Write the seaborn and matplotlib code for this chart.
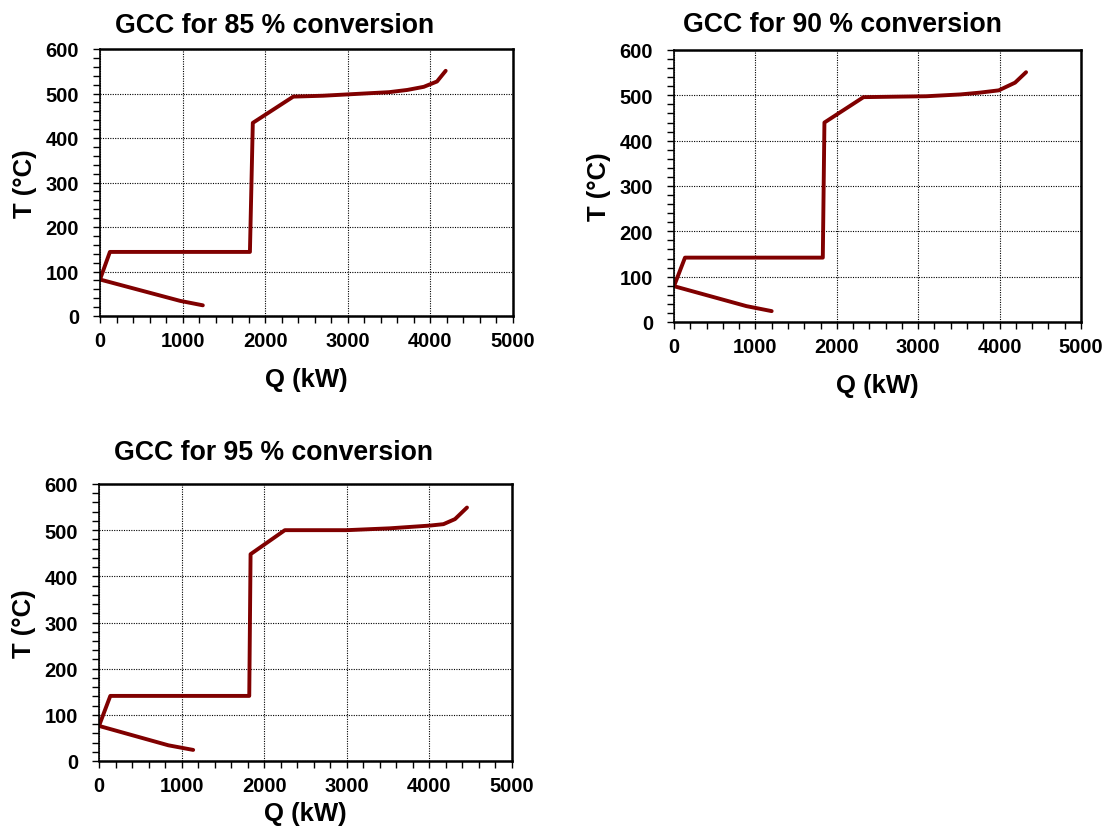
import matplotlib
matplotlib.use("Agg")
import matplotlib.pyplot as plt
from matplotlib.ticker import MultipleLocator
import seaborn as sns
import pandas as pd

# Grand composite curves (path order: cold end -> pinch -> hot end)
q_85 = [1245, 970, 0, 120, 1815, 1850, 2340, 2700, 3000, 3500, 3720, 3920, 4080, 4185]
t_85 = [24, 34, 82, 144, 144, 434, 493, 495, 498, 503, 508, 515, 527, 551]

q_90 = [1200, 890, 0, 135, 1828, 1848, 2328, 2700, 3100, 3520, 3760, 3990, 4190, 4325]
t_90 = [24, 35, 79, 142, 142, 440, 496, 497, 498, 502, 506, 511, 528, 551]

q_95 = [1140, 840, 0, 137, 1819, 1835, 2250, 3000, 3520, 4010, 4170, 4310, 4455]
t_95 = [24, 34, 76, 141, 141, 448, 500, 500, 504, 510, 513, 524, 549]

titles = ["GCC for 85 % conversion", "GCC for 90 % conversion", "GCC for 95 % conversion"]
x_label = "Q (kW)"
y_label = "T (°C)"
x_ticks = [0, 1000, 2000, 3000, 4000, 5000]
y_ticks = [0, 100, 200, 300, 400, 500, 600]

sns.set_style("white")
plt.rcParams["font.family"] = ["Liberation Sans", "DejaVu Sans"]
plt.rcParams["font.weight"] = "bold"
for key in ("text.color", "axes.labelcolor", "xtick.color", "ytick.color", "axes.edgecolor"):
    plt.rcParams[key] = "black"

W, H = 1113, 829
fig = plt.figure(figsize=(W / 100, H / 100), dpi=100)


def axes_box(left, right, top, bottom):
    return [left / W, 1 - bottom / H, (right - left) / W, (bottom - top) / H]


boxes = [
    axes_box(100, 513, 50, 317),
    axes_box(674, 1081, 51, 323),
    axes_box(99, 512, 485, 762),
]
title_pos = [(115, 33), (683, 32), (114, 460)]
xlabel_pads = [12, 12, 4]
series = [(q_85, t_85), (q_90, t_90), (q_95, t_95)]

for box, (q, t), title, (tx, ty), xpad in zip(boxes, series, titles, title_pos, xlabel_pads):
    ax = fig.add_axes(box)
    df = pd.DataFrame({"Q": q, "T": t})
    sns.lineplot(data=df, x="Q", y="T", sort=False, estimator=None, ax=ax,
                 color="#800000", linewidth=2.8, solid_capstyle="round",
                 solid_joinstyle="round")
    ax.set_xlim(0, 5000)
    ax.set_ylim(0, 600)
    ax.set_xticks(x_ticks)
    ax.set_yticks(y_ticks)
    ax.xaxis.set_minor_locator(MultipleLocator(200))
    ax.yaxis.set_minor_locator(MultipleLocator(20))
    ax.set_axisbelow(True)
    ax.grid(True, which="major", color="black", linestyle=(0, (1, 1.2)), linewidth=0.8)
    ax.grid(False, which="minor")
    for name, sp in ax.spines.items():
        sp.set_visible(True)
        sp.set_color("black")
        sp.set_linewidth(1.2 if name == "left" else 1.8)
    ax.tick_params(axis="both", which="both", direction="out", length=5, width=1,
                   color="black", bottom=True, left=True, top=False, right=False)
    ax.tick_params(axis="x", which="major", labelsize=14.5, pad=6)
    ax.tick_params(axis="y", which="major", labelsize=14.5, pad=10)
    for lab in ax.get_xticklabels() + ax.get_yticklabels():
        lab.set_fontweight("bold")
    ax.set_xlabel(x_label, fontsize=18.5, fontweight="bold", labelpad=xpad)
    ax.set_ylabel(y_label, fontsize=18.5, fontweight="bold", labelpad=6)
    fig.text(tx / W, 1 - ty / H, title, fontsize=19.2, fontweight="bold",
             ha="left", va="baseline")

fig.savefig("out.png", dpi=100, facecolor="white")
